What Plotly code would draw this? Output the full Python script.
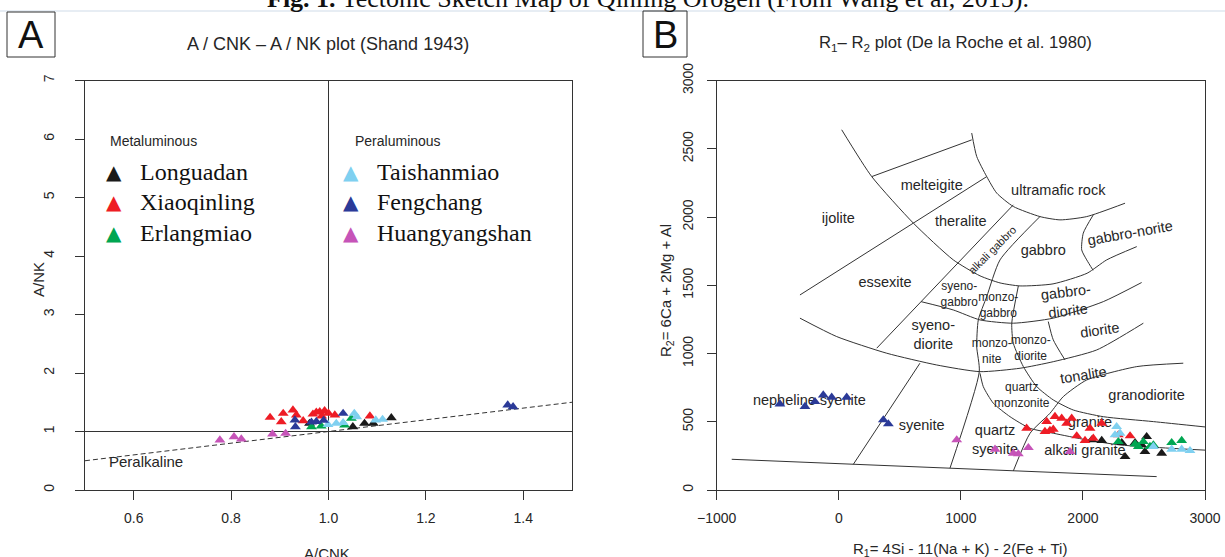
import plotly.graph_objects as go

W, H = 1225, 557
SANS = "Liberation Sans, Arial, sans-serif"
SERIF = "Liberation Serif, Times New Roman, serif"
TXT = "#262626"
LINE = "#333333"

# ---------------- Panel A data (A/CNK vs A/NK) ----------------
lon_a_x = [0.961, 1.050, 1.074, 1.092, 1.129]
lon_a_y = [1.138, 1.081, 1.138, 1.138, 1.235]
xql_a_x = [0.880, 0.907, 0.903, 0.927, 0.934, 0.948, 0.968, 0.982, 0.992, 0.986, 1.000, 1.013, 1.085, 0.975]
xql_a_y = [1.241, 1.309, 1.166, 1.366, 1.280, 1.183, 1.297, 1.337, 1.354, 1.263, 1.310, 1.280, 1.263, 1.330]
elm_a_x = [0.965, 0.985, 1.047, 1.033]
elm_a_y = [1.081, 1.092, 1.224, 1.110]
tsm_a_x = [0.999, 1.016, 1.053, 1.058, 1.097, 1.111, 1.030]
tsm_a_y = [1.118, 1.138, 1.309, 1.250, 1.195, 1.206, 1.150]
fch_a_x = [0.931, 0.932, 0.965, 0.975, 0.990, 1.030, 1.368, 1.379]
fch_a_y = [1.195, 1.081, 1.160, 1.170, 1.190, 1.309, 1.451, 1.423]
hys_a_x = [0.777, 0.806, 0.821, 0.885, 0.912]
hys_a_y = [0.854, 0.910, 0.871, 0.956, 0.967]

peralk_x = [0.5, 1.5]
peralk_y = [0.5, 1.5]
hline_x = [0.5, 1.5]
hline_y = [1.0, 1.0]
vline_x = [1.0, 1.0]
vline_y = [0.0, 7.0]

a_xticks = [0.6, 0.8, 1.0, 1.2, 1.4]
a_xticktext = ["0.6", "0.8", "1.0", "1.2", "1.4"]
a_yticks = [0, 1, 2, 3, 4, 5, 6, 7]

# ---------------- Panel B data (R1 vs R2) ----------------
lon_b_x = [2072, 2154, 2318, 2522, 2427, 2508, 2645, 2345, 2481]
lon_b_y = [367, 362, 347, 391, 347, 281, 269, 244, 330]
xql_b_x = [1539, 1703, 1771, 1826, 1867, 1908, 2058, 2154, 1689, 1730, 1949, 2017, 2085, 2290, 2386, 1757]
xql_b_y = [452, 501, 538, 525, 489, 525, 452, 489, 428, 435, 396, 362, 379, 403, 396, 445]
elm_b_x = [2290, 2427, 2454, 2495, 2549, 2727, 2809, 2577]
elm_b_y = [354, 337, 318, 354, 318, 347, 362, 330]
tsm_b_x = [2276, 2263, 2577, 2727, 2809, 2877, 2304]
tsm_b_y = [464, 403, 318, 298, 298, 288, 415]
fch_b_x = [-482, -277, -195, -127, -58, 65, 365, 406]
fch_b_y = [630, 611, 647, 696, 679, 679, 513, 484]
hys_b_x = [966, 1280, 1430, 1471, 1553, 1894]
hys_b_y = [367, 298, 269, 264, 310, 281]

# classification boundaries (data units)
bnd_outer_x = [24, 270, 611, 938, 1157, 1321, 1485, 1755, 2034, 2195, 2441]
bnd_outer_y = [2639, 2296, 1955, 1686, 1569, 1517, 1495, 1510, 1588, 1686, 1783]
bnd_ultra_x = [1089, 1130, 1212, 1294, 1430, 1648, 1812, 2031, 2345]
bnd_ultra_y = [2615, 2443, 2296, 2175, 2077, 2003, 1979, 2003, 2101]
bnd_melt_x = [270, 1089]
bnd_melt_y = [2296, 2565]
bnd_ijol_x = [1212, -318]
bnd_ijol_y = [2296, 1429]
bnd_alkgab1_x = [1430, 311]
bnd_alkgab1_y = [2089, 1039]
bnd_alkgab2_x = [1648, 1321, 1212, 1143, 1130, 1151, 911]
bnd_alkgab2_y = [2003, 1686, 1417, 1246, 1050, 867, 160]
bnd_gd_top_x = [674, 938, 1157, 1430, 1757, 2167, 2481]
bnd_gd_top_y = [1380, 1319, 1246, 1222, 1259, 1380, 1520]
bnd_monzo_x = [1471, 1417, 1430, 1512, 1621, 1757, 1921, 2167, 2577, 3000]
bnd_monzo_y = [1495, 1222, 1075, 904, 758, 660, 586, 537, 501, 462]
bnd_sydi_x = [-318, -17, 393, 802, 1157, 1485, 1757, 2113, 2495]
bnd_sydi_y = [1259, 1124, 1002, 916, 867, 892, 940, 1026, 1222]
bnd_dior_x = [1716, 1757, 1853]
bnd_dior_y = [1234, 1100, 953]
bnd_tona_x = [2822, 2441, 2031, 1839, 1730, 1567, 1430]
bnd_tona_y = [929, 904, 806, 684, 562, 416, 140]
bnd_qmz_x = [1157, 1184, 1266, 1403, 1567, 1757, 2031, 2304, 2713, 3000]
bnd_qmz_y = [855, 757, 636, 537, 452, 416, 367, 330, 306, 292]
bnd_neph_x = [665, 119]
bnd_neph_y = [929, 188]
bnd_norite_x = [2085, 2003, 1990, 2031, 2083]
bnd_norite_y = [2016, 1882, 1759, 1686, 1610]
bnd_base_x = [-877, 2604]
bnd_base_y = [225, 98]

boundaries = [
    (bnd_outer_x, bnd_outer_y), (bnd_ultra_x, bnd_ultra_y), (bnd_melt_x, bnd_melt_y),
    (bnd_ijol_x, bnd_ijol_y), (bnd_alkgab1_x, bnd_alkgab1_y), (bnd_alkgab2_x, bnd_alkgab2_y),
    (bnd_gd_top_x, bnd_gd_top_y), (bnd_monzo_x, bnd_monzo_y), (bnd_sydi_x, bnd_sydi_y),
    (bnd_dior_x, bnd_dior_y), (bnd_tona_x, bnd_tona_y), (bnd_qmz_x, bnd_qmz_y),
    (bnd_neph_x, bnd_neph_y), (bnd_norite_x, bnd_norite_y), (bnd_base_x, bnd_base_y),
]

# field names (straight)
field_text = ["melteigite", "ultramafic rock", "ijolite", "theralite", "gabbro", "essexite",
              "syeno-<br>diorite", "nepheline syenite", "syenite", "granodiorite",
              "granite", "quartz<br>syenite", "alkali granite"]
field_x = [761, 1798, -4, 999, 1675, 379, 774, -241, 679, 2522, 2058, 1280, 2017]
field_y = [2228, 2187, 1984, 1959, 1747, 1515, 1129, 647, 464, 689, 489, 361, 281]

small_text = ["syeno-<br>gabbro", "monzo-<br>gabbro", "monzo-<br>nite", "monzo-<br>diorite", "quartz<br>monzonite"]
small_x = [987, 1307, 1253, 1572, 1499]
small_y = [1429, 1349, 1009, 1034, 689]

rot_text = ["alkali gabbro", "gabbro-norite", "gabbro-<br>diorite", "diorite", "tonalite"]
rot_x = [1255, 2386, 1867, 2140, 2003]
rot_y = [1759, 1882, 1380, 1173, 843]
rot_angle = [-45, -10, -7, -8, -9]
rot_size = [11, 14.5, 14.5, 14.5, 14.5]

b_xticks = [-1000, 0, 1000, 2000, 3000]
b_yticks = [0, 500, 1000, 1500, 2000, 2500, 3000]

# series styling
series = [
    ("Longuadan", "#1a1a1a", lon_a_x, lon_a_y, lon_b_x, lon_b_y),
    ("Xiaoqinling", "#ee1c25", xql_a_x, xql_a_y, xql_b_x, xql_b_y),
    ("Erlangmiao", "#00a651", elm_a_x, elm_a_y, elm_b_x, elm_b_y),
    ("Taishanmiao", "#7fd0f0", tsm_a_x, tsm_a_y, tsm_b_x, tsm_b_y),
    ("Fengchang", "#2b3a98", fch_a_x, fch_a_y, fch_b_x, fch_b_y),
    ("Huangyangshan", "#c654b8", hys_a_x, hys_a_y, hys_b_x, hys_b_y),
]

fig = go.Figure()

# ---- Panel A lines ----
fig.add_trace(go.Scatter(x=peralk_x, y=peralk_y, mode="lines", xaxis="x", yaxis="y",
                         line=dict(color=LINE, width=1, dash="5px,3px"), hoverinfo="skip", showlegend=False))
fig.add_trace(go.Scatter(x=hline_x, y=hline_y, mode="lines", xaxis="x", yaxis="y",
                         line=dict(color=LINE, width=1), hoverinfo="skip", showlegend=False))
fig.add_trace(go.Scatter(x=vline_x, y=vline_y, mode="lines", xaxis="x", yaxis="y",
                         line=dict(color=LINE, width=1), hoverinfo="skip", showlegend=False))

# ---- Panel B boundaries ----
for bx, by in boundaries:
    fig.add_trace(go.Scatter(x=bx, y=by, mode="lines", xaxis="x2", yaxis="y2",
                             line=dict(color=LINE, width=1, shape="spline", smoothing=0.6),
                             hoverinfo="skip", showlegend=False))

# ---- Panel B field labels (under the points) ----
fig.add_trace(go.Scatter(x=field_x, y=field_y, mode="text", text=field_text, xaxis="x2", yaxis="y2",
                         textfont=dict(family=SANS, size=14.5, color=TXT),
                         textposition="middle center", hoverinfo="skip", showlegend=False))
fig.add_trace(go.Scatter(x=small_x, y=small_y, mode="text", text=small_text, xaxis="x2", yaxis="y2",
                         textfont=dict(family=SANS, size=12, color=TXT),
                         textposition="middle center", hoverinfo="skip", showlegend=False))

# ---- data points ----
for name, col, ax, ay, bx, by in series:
    fig.add_trace(go.Scatter(x=ax, y=ay, mode="markers", xaxis="x", yaxis="y", name=name,
                             marker=dict(symbol="triangle-up", size=9.5, color=col), showlegend=False))
    fig.add_trace(go.Scatter(x=bx, y=by, mode="markers", xaxis="x2", yaxis="y2", name=name,
                             marker=dict(symbol="triangle-up", size=9.5, color=col), showlegend=False))

ydom = [(H - 490) / H, (H - 80.5) / H]
axis_common = dict(showline=True, linecolor=LINE, linewidth=1, mirror=True, showgrid=False,
                   zeroline=False, ticks="outside", ticklen=9, tickcolor=LINE, tickwidth=1,
                   automargin=False,
                   tickfont=dict(family=SANS, size=14, color=TXT))

fig.update_layout(
    template="none",
    width=W, height=H, autosize=False,
    margin=dict(l=0, r=0, t=0, b=0, pad=0),
    paper_bgcolor="white", plot_bgcolor="white",
    showlegend=False,
    xaxis=dict(domain=[85 / W, 572 / W], range=[0.5, 1.5], tickvals=a_xticks, ticktext=a_xticktext,
               anchor="y", ticklabelstandoff=6, **axis_common),
    yaxis=dict(domain=ydom, range=[0, 7], tickvals=a_yticks, tickangle=-90, anchor="x",
               ticklabelstandoff=15, **axis_common),
    xaxis2=dict(domain=[716.7 / W, 1205 / W], range=[-1000, 3000], tickvals=b_xticks, anchor="y2",
                ticklabelstandoff=6, **axis_common),
    yaxis2=dict(domain=ydom, range=[0, 3000], tickvals=b_yticks, tickangle=-90, anchor="x2",
                ticklabelstandoff=8, **axis_common),
)

def px(xp):
    return xp / W

def py(yp):
    return 1 - yp / H

ann = []
# top caption (cut by the page edge)
ann.append(dict(x=px(648), y=py(15), xref="paper", yref="paper", xanchor="center", yanchor="bottom",
                text="<b>Fig. 1.</b> Tectonic Sketch Map of Qinling Orogen (From Wang et al, 2015).",
                showarrow=False, font=dict(family=SERIF, size=26, color="#111111")))
# panel letters
ann.append(dict(x=px(31), y=py(35), xref="paper", yref="paper", text="A", showarrow=False,
                font=dict(family=SANS, size=38, color="#111111"), xanchor="center", yanchor="middle"))
ann.append(dict(x=px(665), y=py(35), xref="paper", yref="paper", text="B", showarrow=False,
                font=dict(family=SANS, size=38, color="#111111"), xanchor="center", yanchor="middle"))
# titles
ann.append(dict(x=px(328), y=py(44), xref="paper", yref="paper", text="A / CNK – A / NK plot (Shand 1943)",
                showarrow=False, font=dict(family=SANS, size=18, color=TXT), xanchor="center", yanchor="middle"))
ann.append(dict(x=px(955), y=py(44), xref="paper", yref="paper",
                text="R<sub>1</sub>– R<sub>2</sub> plot (De la Roche et al. 1980)",
                showarrow=False, font=dict(family=SANS, size=16.7, color=TXT), xanchor="center", yanchor="middle"))
# axis titles
ann.append(dict(x=px(327), y=py(553), xref="paper", yref="paper", text="A/CNK", showarrow=False,
                font=dict(family=SANS, size=15, color=TXT), xanchor="center", yanchor="middle"))
ann.append(dict(x=px(38), y=py(280), xref="paper", yref="paper", text="A/NK", showarrow=False, textangle=-90,
                font=dict(family=SANS, size=15, color=TXT), xanchor="center", yanchor="middle"))
ann.append(dict(x=px(960), y=py(549), xref="paper", yref="paper",
                text="R<sub>1</sub>= 4Si - 11(Na + K) - 2(Fe + Ti)", showarrow=False,
                font=dict(family=SANS, size=15, color=TXT), xanchor="center", yanchor="middle"))
ann.append(dict(x=px(666), y=py(291), xref="paper", yref="paper", text="R<sub>2</sub>= 6Ca + 2Mg + Al",
                showarrow=False, textangle=-90,
                font=dict(family=SANS, size=15, color=TXT), xanchor="center", yanchor="middle"))
# Peralkaline label
ann.append(dict(x=0.626, y=0.483, xref="x", yref="y", text="Peralkaline", showarrow=False,
                font=dict(family=SANS, size=15, color=TXT), xanchor="center", yanchor="middle"))
# legend
ann.append(dict(x=px(108), y=py(141), xref="paper", yref="paper", text="Metaluminous", showarrow=False,
                font=dict(family=SANS, size=14, color=TXT), xanchor="left", yanchor="middle"))
ann.append(dict(x=px(353), y=py(141), xref="paper", yref="paper", text="Peraluminous", showarrow=False,
                font=dict(family=SANS, size=14, color=TXT), xanchor="left", yanchor="middle"))
leg_rows = [172, 202, 233]
for i, (name, col, *_rest) in enumerate(series):
    col_x_tri = 114 if i < 3 else 351
    col_x_txt = 138 if i < 3 else 375
    row = leg_rows[i % 3]
    ann.append(dict(x=px(col_x_tri), y=py(row), xref="paper", yref="paper", text="▲", showarrow=False,
                    font=dict(family="DejaVu Sans", size=20, color=col), xanchor="center", yanchor="middle"))
    ann.append(dict(x=px(col_x_txt), y=py(row), xref="paper", yref="paper", text=name, showarrow=False,
                    font=dict(family=SERIF, size=24, color="#111111"), xanchor="left", yanchor="middle"))
# rotated field labels in B
for t, xx, yy, ang, sz in zip(rot_text, rot_x, rot_y, rot_angle, rot_size):
    ann.append(dict(x=xx, y=yy, xref="x2", yref="y2", text=t, showarrow=False, textangle=ang,
                    font=dict(family=SANS, size=sz, color=TXT), xanchor="center", yanchor="middle"))

fig.update_layout(annotations=ann)

shapes = [
    dict(type="line", xref="paper", yref="paper", x0=0, x1=1, y0=py(11), y1=py(11),
         line=dict(color="#cfdbe8", width=1)),
    dict(type="rect", xref="paper", yref="paper", x0=px(7), x1=px(55), y0=py(57), y1=py(12),
         line=dict(color="#333333", width=1)),
    dict(type="rect", xref="paper", yref="paper", x0=px(643), x1=px(687), y0=py(57), y1=py(11),
         line=dict(color="#333333", width=1)),
]
fig.update_layout(shapes=shapes)

fig.write_html("out.html", config={"displayModeBar": False},
               post_script="document.body.style.margin='0';document.body.style.overflow='hidden';")
